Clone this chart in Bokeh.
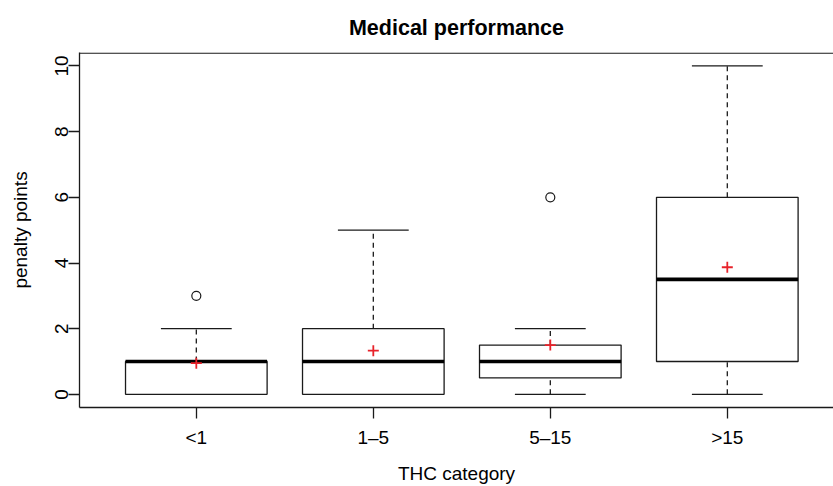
from bokeh.plotting import figure
from bokeh.models import FixedTicker, Span, Range1d, ColumnDataSource
from bokeh.embed import file_html
from bokeh.resources import INLINE

# ---- data ----
categories = ["<1", "1–5", "5–15", ">15"]
positions = [1, 2, 3, 4]
whisker_low = [0, 0, 0, 0]
q1 = [0, 0, 0.5, 1]
median = [1, 1, 1, 3.5]
q3 = [1, 2, 1.5, 6]
whisker_high = [2, 5, 2, 10]
means = [0.95, 1.33, 1.5, 3.87]
outlier_pos = [1, 3]
outlier_values = [3, 6]
y_ticks = [0, 2, 4, 6, 8, 10]

BOX_HALF = 0.4
STAPLE_HALF = 0.2
FONT = "Liberation Sans"
LINE = "#1a1a1a"

src = ColumnDataSource(dict(
    x=positions,
    left=[p - BOX_HALF for p in positions],
    right=[p + BOX_HALF for p in positions],
    sl=[p - STAPLE_HALF for p in positions],
    sr=[p + STAPLE_HALF for p in positions],
    wl=whisker_low, q1=q1, med=median, q3=q3, wh=whisker_high, mean=means,
))

p = figure(width=833, height=486, output_backend="svg", toolbar_location=None,
           x_range=Range1d(0.34, 4.60), y_range=Range1d(-0.4, 10.41),
           min_border_left=79, min_border_right=0, min_border_top=51,
           min_border_bottom=78)
p.outline_line_color = None
p.xgrid.visible = False
p.ygrid.visible = False
p.background_fill_color = "white"
p.border_fill_color = "white"

p.title.text = "Medical performance"
p.title.align = "center"
p.title.vertical_align = "bottom"
p.title.standoff = 26
p.title.text_font = FONT
p.title.text_font_size = "21.5px"
p.title.text_font_style = "bold"
p.title.text_color = "black"

# whiskers (dashed)
p.segment(x0="x", y0="q3", x1="x", y1="wh", source=src, line_color=LINE,
          line_width=1.3, line_dash="5 4")
p.segment(x0="x", y0="wl", x1="x", y1="q1", source=src, line_color=LINE,
          line_width=1.3, line_dash="5 4")
# staples
p.segment(x0="sl", y0="wh", x1="sr", y1="wh", source=src, line_color=LINE, line_width=1.3)
p.segment(x0="sl", y0="wl", x1="sr", y1="wl", source=src, line_color=LINE, line_width=1.3)
# boxes
p.quad(left="left", right="right", bottom="q1", top="q3", source=src,
       fill_color="white", line_color=LINE, line_width=1.3)
# medians
p.segment(x0="left", y0="med", x1="right", y1="med", source=src,
          line_color="black", line_width=3.6)
# outliers
p.scatter(x=outlier_pos, y=outlier_values, marker="circle", size=9,
          fill_color=None, line_color=LINE, line_width=1.2)
# means
p.scatter(x="x", y="mean", source=src, marker="cross", size=11,
          line_color="#e8222a", line_width=1.8)

# top frame border
p.add_layout(Span(location=10.39, dimension="width", line_color=LINE, line_width=1.3))

# axes
for ax in (p.xaxis, p.yaxis):
    ax.axis_line_color = LINE
    ax.axis_line_width = 1.3
    ax.major_tick_line_color = LINE
    ax.major_tick_line_width = 1.3
    ax.major_tick_in = 0
    ax.major_tick_out = 11
    ax.minor_tick_line_color = None
    ax.major_label_text_font = FONT
    ax.major_label_text_font_size = "19px"
    ax.major_label_text_color = "black"
    ax.axis_label_text_font = FONT
    ax.axis_label_text_font_size = "19px"
    ax.axis_label_text_font_style = "normal"
    ax.axis_label_text_color = "black"

p.xaxis.ticker = FixedTicker(ticks=positions)
p.xaxis.major_label_overrides = {pos: lab for pos, lab in zip(positions, categories)}
p.xaxis.axis_label = "THC category"
p.xaxis.major_label_standoff = 8
p.xaxis.axis_label_standoff = 12

p.yaxis.ticker = FixedTicker(ticks=y_ticks)
p.yaxis.major_label_orientation = "vertical"
p.yaxis.axis_label = "penalty points"
p.yaxis.major_label_standoff = 0
p.yaxis.axis_label_standoff = 22

open("out.html", "w").write(file_html(p, INLINE))
